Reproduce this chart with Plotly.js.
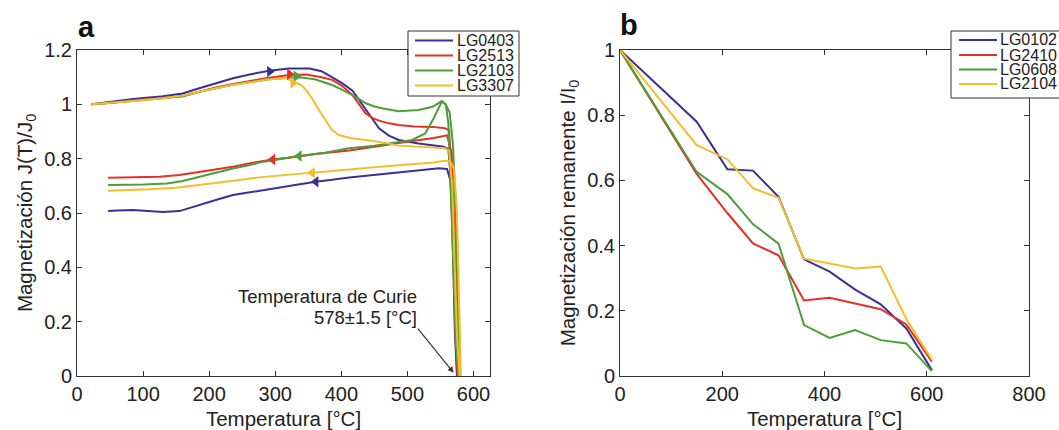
<!DOCTYPE html>
<html>
<head>
<meta charset="utf-8">
<script src="https://cdn.plot.ly/plotly-3.0.1.min.js"></script>
<style>html,body{margin:0;padding:0;background:#fff;}#chart{width:1059px;height:430px;}</style>
</head>
<body>
<div id="chart"></div>
<script>
// ---------- DATA: panel a (thermomagnetic curves, heating then cooling) ----------
const namesA = ['LG0403', 'LG2513', 'LG2103', 'LG3307'];
const colorsA = ['#3b2f96', '#e63027', '#4c9f38', '#f5bd2a'];

const tempLG0403 = [22,50,85,130,160,185,210,236,265,291,320,352,370,386,400,417,427,437,447,457,472,487,517,540,555,562,566,569,572,575,
  576,573,569,565,560,548,520,487,450,412,386,361,330,296,266,236,210,185,165,155,130,85,60,47];
const magLG0403 = [1.0,1.008,1.02,1.03,1.04,1.059,1.078,1.096,1.112,1.124,1.132,1.132,1.122,1.10,1.08,1.05,1.015,0.98,0.945,0.912,0.885,0.869,0.856,0.848,0.844,0.835,0.72,0.45,0.15,0.0,
  0.0,0.25,0.55,0.72,0.762,0.765,0.758,0.752,0.74,0.731,0.722,0.715,0.703,0.69,0.679,0.666,0.648,0.629,0.612,0.607,0.604,0.611,0.609,0.607];

const tempLG2513 = [22,50,85,130,160,185,210,236,265,291,321,347,370,386,400,417,427,437,447,457,472,487,510,538,557,563,567,570,573,576,
  578,575,571,567,560,540,510,487,450,412,361,330,296,266,236,210,185,155,125,85,47];
const magLG2513 = [1.0,1.005,1.015,1.025,1.03,1.046,1.062,1.075,1.088,1.098,1.108,1.11,1.10,1.09,1.07,1.034,1.0,0.966,0.95,0.94,0.93,0.924,0.918,0.917,0.912,0.905,0.75,0.45,0.15,0.0,
  0.0,0.3,0.6,0.82,0.886,0.876,0.866,0.858,0.845,0.83,0.817,0.806,0.797,0.785,0.77,0.76,0.752,0.74,0.733,0.731,0.73];

const tempLG2103 = [22,50,85,130,160,185,210,236,265,291,320,336,360,386,400,417,437,450,463,487,517,538,552,558,562,565,569,573,577,
  579,576,573,569,564,558,552,540,527,507,487,450,412,375,336,300,283,260,236,210,185,160,136,100,47];
const magLG2103 = [1.0,1.005,1.012,1.022,1.03,1.046,1.06,1.072,1.083,1.092,1.098,1.10,1.092,1.071,1.055,1.034,1.004,0.992,0.985,0.975,0.979,0.991,1.012,1.0,0.93,0.75,0.45,0.15,0.0,
  0.0,0.3,0.6,0.85,0.97,1.0,1.01,0.95,0.893,0.869,0.862,0.848,0.838,0.822,0.81,0.795,0.789,0.776,0.764,0.748,0.733,0.718,0.709,0.705,0.703];

const tempLG3307 = [22,50,85,130,160,185,210,236,265,283,305,316,327,340,347,356,366,376,386,396,415,437,462,487,520,557,563,568,571,575,579,
  581,578,575,571,565,555,540,510,487,450,412,385,356,320,283,240,185,150,110,80,47];
const magLG3307 = [1.0,1.005,1.012,1.022,1.032,1.046,1.06,1.072,1.082,1.09,1.095,1.097,1.085,1.07,1.052,1.02,0.979,0.94,0.905,0.887,0.875,0.869,0.86,0.848,0.842,0.838,0.83,0.7,0.45,0.15,0.0,
  0.0,0.3,0.6,0.76,0.79,0.792,0.786,0.78,0.776,0.768,0.76,0.754,0.748,0.741,0.733,0.72,0.703,0.693,0.687,0.684,0.682];

// direction arrows on the curves (heating -> right, cooling -> left)
const arrowHeatT = [291.6, 321.8, 331.8, 326.8];
const arrowHeatM = [1.121, 1.111, 1.103, 1.078];
const arrowCoolT = [361.5, 296, 336, 356];
const arrowCoolM = [0.715, 0.797, 0.81, 0.748];

// Curie temperature annotation
const curieLabel1 = 'Temperatura de Curie';
const curieLabel2 = '578±1.5 [°C]';

// ---------- DATA: panel b (stepwise thermal demagnetization) ----------
const namesB = ['LG0102', 'LG2410', 'LG0608', 'LG2104'];
const colorsB = ['#3b2f96', '#e63027', '#4c9f38', '#f5bd2a'];
const stepsB = [0, 150, 210, 260, 310, 360, 410, 460, 510, 560, 610];
const remLG0102 = [1.0, 0.78, 0.634, 0.63, 0.55, 0.358, 0.32, 0.265, 0.22, 0.146, 0.018];
const remLG2410 = [1.0, 0.62, 0.50, 0.407, 0.37, 0.232, 0.24, 0.223, 0.205, 0.158, 0.044];
const remLG0608 = [1.0, 0.626, 0.558, 0.466, 0.406, 0.156, 0.117, 0.141, 0.11, 0.10, 0.015];
const remLG2104 = [1.0, 0.708, 0.665, 0.576, 0.547, 0.36, 0.345, 0.33, 0.336, 0.175, 0.05];

// axis ticks
const ticksXa = [0, 100, 200, 300, 400, 500, 600];
const ticksYa = [0, 0.2, 0.4, 0.6, 0.8, 1.0, 1.2];
const ticksXb = [0, 200, 400, 600, 800];
const ticksYb = [0, 0.2, 0.4, 0.6, 0.8, 1.0];

// ---------- BUILD ----------
const W = 1059, H = 430;
const px = v => v / W;
const py = v => 1 - v / H;
const FONT = 'Arial, Liberation Sans, Helvetica, sans-serif';
const TXT = '#222';

const curvesA = [[tempLG0403, magLG0403], [tempLG2513, magLG2513], [tempLG2103, magLG2103], [tempLG3307, magLG3307]];
const curvesB = [remLG0102, remLG2410, remLG0608, remLG2104];

const traces = [];
curvesA.forEach((c, i) => {
  traces.push({x: c[0], y: c[1], type: 'scatter', mode: 'lines', name: namesA[i],
    line: {color: colorsA[i], width: 2}, xaxis: 'x', yaxis: 'y', showlegend: false, hoverinfo: 'skip'});
});
curvesA.forEach((c, i) => {
  traces.push({x: [arrowHeatT[i]], y: [arrowHeatM[i]], type: 'scatter', mode: 'markers',
    marker: {symbol: 'triangle-right', size: 10, color: colorsA[i]}, xaxis: 'x', yaxis: 'y', showlegend: false, hoverinfo: 'skip'});
  traces.push({x: [arrowCoolT[i]], y: [arrowCoolM[i]], type: 'scatter', mode: 'markers',
    marker: {symbol: 'triangle-left', size: 10, color: colorsA[i]}, xaxis: 'x', yaxis: 'y', showlegend: false, hoverinfo: 'skip'});
});
curvesB.forEach((r, i) => {
  traces.push({x: stepsB, y: r, type: 'scatter', mode: 'lines', name: namesB[i],
    line: {color: colorsB[i], width: 2}, xaxis: 'x2', yaxis: 'y2', showlegend: false, hoverinfo: 'skip'});
});

function axisBase(extra) {
  return Object.assign({
    showline: true, linecolor: '#333', linewidth: 1, mirror: 'ticks',
    ticks: 'inside', ticklen: 5, tickcolor: '#333', tickwidth: 1,
    showgrid: false, zeroline: false, fixedrange: true,
    tickfont: {family: FONT, size: 20, color: TXT}
  }, extra);
}

const shapes = [];
const annotations = [];

function legendBox(x0, x1, y0, y1, lineX0, lineX1, textX, rowYs, names, colors) {
  shapes.push({type: 'rect', xref: 'paper', yref: 'paper', x0: px(x0), x1: px(x1), y0: py(y1), y1: py(y0),
    fillcolor: '#fff', line: {color: '#333', width: 1}, layer: 'above'});
  names.forEach((n, i) => {
    shapes.push({type: 'line', xref: 'paper', yref: 'paper', x0: px(lineX0), x1: px(lineX1), y0: py(rowYs[i]), y1: py(rowYs[i]),
      line: {color: colors[i], width: 2}, layer: 'above'});
    annotations.push({xref: 'paper', yref: 'paper', x: px(textX), y: py(rowYs[i]), xanchor: 'left', yanchor: 'middle',
      text: n, showarrow: false, font: {family: FONT, size: 16, color: TXT}});
  });
}
legendBox(408, 519, 31, 96, 415, 453, 455, [40.5, 55.5, 70.5, 85.5], namesA, colorsA);
legendBox(951, 1075, 31, 98, 959, 997, 998, [40, 55, 69.5, 84], namesB, colorsB);

// panel letters
annotations.push({xref: 'paper', yref: 'paper', x: px(76), y: py(27), xanchor: 'left', yanchor: 'middle',
  text: '<b>a</b>', showarrow: false, font: {family: FONT, size: 29, color: '#111'}});
annotations.push({xref: 'paper', yref: 'paper', x: px(618), y: py(25), xanchor: 'left', yanchor: 'middle',
  text: '<b>b</b>', showarrow: false, font: {family: FONT, size: 29, color: '#111'}});

// Curie annotation
annotations.push({xref: 'x', yref: 'y', x: 517, y: 0.291, xanchor: 'right', yanchor: 'middle',
  text: curieLabel1, showarrow: false, font: {family: FONT, size: 18.5, color: TXT}});
annotations.push({xref: 'x', yref: 'y', x: 517, y: 0.217, xanchor: 'right', yanchor: 'middle',
  text: curieLabel2, showarrow: false, font: {family: FONT, size: 18.5, color: TXT}});
annotations.push({xref: 'x', yref: 'y', axref: 'x', ayref: 'y', x: 570, y: 0.012, ax: 514, ay: 0.18,
  text: '', showarrow: true, arrowhead: 2, arrowsize: 1, arrowwidth: 1.2, arrowcolor: '#333'});

const layout = {
  width: W, height: H,
  margin: {l: 0, r: 0, t: 0, b: 0},
  paper_bgcolor: '#fff', plot_bgcolor: '#fff',
  font: {family: FONT, color: TXT},
  showlegend: false,
  xaxis: axisBase({domain: [px(77), px(490)], range: [0, 625], tickvals: ticksXa, anchor: 'y',
    title: {text: 'Temperatura [°C]', font: {family: FONT, size: 20.5, color: TXT}, standoff: 7}}),
  yaxis: axisBase({domain: [py(376), py(50)], range: [0, 1.2], tickvals: ticksYa, anchor: 'x',
    title: {text: 'Magnetización J(T)/J<sub>0</sub>', font: {family: FONT, size: 20.5, color: TXT}, standoff: 6}}),
  xaxis2: axisBase({domain: [px(620), px(1029)], range: [0, 800], tickvals: ticksXb, anchor: 'y2',
    title: {text: 'Temperatura [°C]', font: {family: FONT, size: 20.5, color: TXT}, standoff: 7}}),
  yaxis2: axisBase({domain: [py(376), py(50)], range: [0, 1], tickvals: ticksYb, anchor: 'x2',
    title: {text: 'Magnetización remanente I/I<sub>0</sub>', font: {family: FONT, size: 20.5, color: TXT}, standoff: 6}}),
  shapes: shapes,
  annotations: annotations
};

Plotly.newPlot('chart', traces, layout, {staticPlot: true, displayModeBar: false});
</script>
</body>
</html>
